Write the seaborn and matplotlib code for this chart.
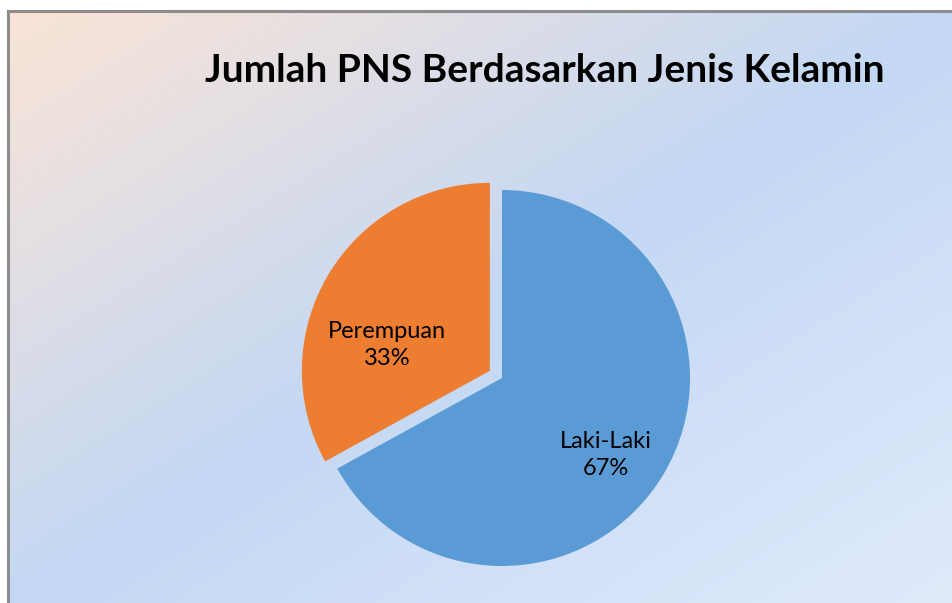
import matplotlib
matplotlib.use('Agg')
import matplotlib.pyplot as plt
import numpy as np
import seaborn as sns

# data
categories = ['Laki-Laki', 'Perempuan']
shares = [67, 33]
title = 'Jumlah PNS Berdasarkan Jenis Kelamin'

sns.set_style('white')
plt.rcParams['font.family'] = ['Lato', 'DejaVu Sans']

colours = sns.color_palette(['#5B9BD5', '#ED7D31'])

W, H = 953, 603
fig = plt.figure(figsize=(W / 100, H / 100), dpi=100)
fig.patch.set_facecolor('white')

# gradient background of the chart area (frame runs off right/bottom edges)
bg = fig.add_axes([8 / W, 0, 1 - 8 / W, 1 - 11 / H])
ny, nx = 200, 300
yy, xx = np.mgrid[0:1:ny * 1j, 0:1:nx * 1j]
t = (xx + yy) / 2
stops = np.array([0.0, 0.5, 1.0])
cols = np.array([[250, 228, 214], [196, 216, 244], [224, 234, 251]]) / 255
img = np.stack([np.interp(t, stops, cols[:, k]) for k in range(3)], axis=-1)
bg.imshow(img, aspect='auto', extent=[0, 1, 1, 0], interpolation='bilinear')
bg.set_xlim(0, 1)
bg.set_ylim(1, 0)
bg.set_xticks([])
bg.set_yticks([])
for side in ['right', 'bottom']:
    bg.spines[side].set_visible(False)
for side in ['top', 'left']:
    bg.spines[side].set_color('#8c8c8c')
    bg.spines[side].set_linewidth(2.2)

fig.text(545 / W, 1 - 70 / H, title, ha='center', va='center',
         fontsize=28, fontweight='bold', color='black')

# pie
cx, cy, r = 502, 378, 188
span = 1.25 * r
ax = fig.add_axes([(cx - span) / W, (H - cy - span) / H, 2 * span / W, 2 * span / H])
ax.set_facecolor('none')
wedges, texts, autotexts = ax.pie(
    shares, colors=colours, startangle=90, counterclock=False,
    explode=[0, 0.075], labels=None,
    autopct=lambda p: '', pctdistance=0.65,
    wedgeprops=dict(linewidth=0),
)
ax.set_xlim(-1.25, 1.25)
ax.set_ylim(-1.25, 1.25)
ax.axis('off')

label_pos = [(0.55, -0.41), (-0.61, 0.175)]
for txt, name, pct, pos in zip(autotexts, categories, shares, label_pos):
    txt.set_text(f'{name}\n{pct}%')
    txt.set_position(pos)
    txt.set_fontsize(17)
    txt.set_color('black')
    txt.set_ha('center')
    txt.set_va('center')
    txt.set_linespacing(1.35)

fig.savefig('out.png', dpi=100)
